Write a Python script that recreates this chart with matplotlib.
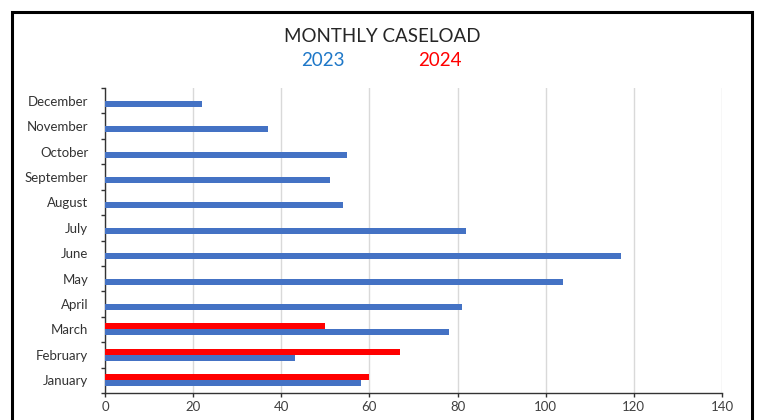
import numpy as np
import matplotlib.pyplot as plt
from matplotlib.patches import Rectangle

# ---------------- Data ----------------
months = ["January", "February", "March", "April", "May", "June",
          "July", "August", "September", "October", "November", "December"]
cases_2023 = [58, 43, 78, 81, 104, 117, 82, 54, 51, 55, 37, 22]
cases_2024 = [60, 67, 50]  # Jan - Mar only

blue = "#4472C4"
red = "#FF0000"

plt.rcParams['font.family'] = ['Lato', 'DejaVu Sans']

# ---------------- Plot ----------------
fig = plt.figure(figsize=(7.58, 4.2), dpi=100)
ax = fig.add_axes([105 / 758, 1 - 393 / 420, 617 / 758, 305 / 420])

y = np.arange(len(months))
h = 0.235
ax.barh(y - h / 2, cases_2023, height=h, color=blue, zorder=3)
ax.barh(y[:len(cases_2024)] + h / 2, cases_2024, height=h, color=red, zorder=3)

ax.set_xlim(0, 140)
ax.set_ylim(-0.5, len(months) - 0.5)
ax.set_xticks(np.arange(0, 141, 20))
ax.set_yticks(y)
ax.set_yticklabels(months)
ax.set_yticks(np.arange(-0.5, len(months), 1), minor=True)
ax.tick_params(axis='y', which='major', length=0, pad=12, labelsize=9.5, labelcolor="#333333")
ax.tick_params(axis='y', which='minor', length=3, width=1, color="#333333")
ax.tick_params(axis='x', length=3, width=1, color="#333333", labelsize=9.5, labelcolor="#404040", pad=3)

ax.grid(axis='x', color="#d9d9d9", linewidth=1, zorder=0)
for s in ["top", "right"]:
    ax.spines[s].set_visible(False)
for s in ["left", "bottom"]:
    ax.spines[s].set_color("#333333")
    ax.spines[s].set_linewidth(1)

# title and year legend
fig.text(382 / 758, 1 - 36 / 420, "MONTHLY CASELOAD", ha='center', va='center',
         fontsize=13.5, color="#262626")
fig.text(323 / 758, 1 - 60 / 420, "2023", ha='center', va='center', fontsize=13.5, color="#1F78C8")
fig.text(440 / 758, 1 - 60 / 420, "2024", ha='center', va='center', fontsize=13.5, color=red)

# black frame round the chart
fig.patches.append(Rectangle((12 / 758, -0.05), 740 / 758, 1.05 - 12 / 420,
                             transform=fig.transFigure, fill=False,
                             edgecolor="black", linewidth=2.2))

fig.savefig("out.png", dpi=100)
